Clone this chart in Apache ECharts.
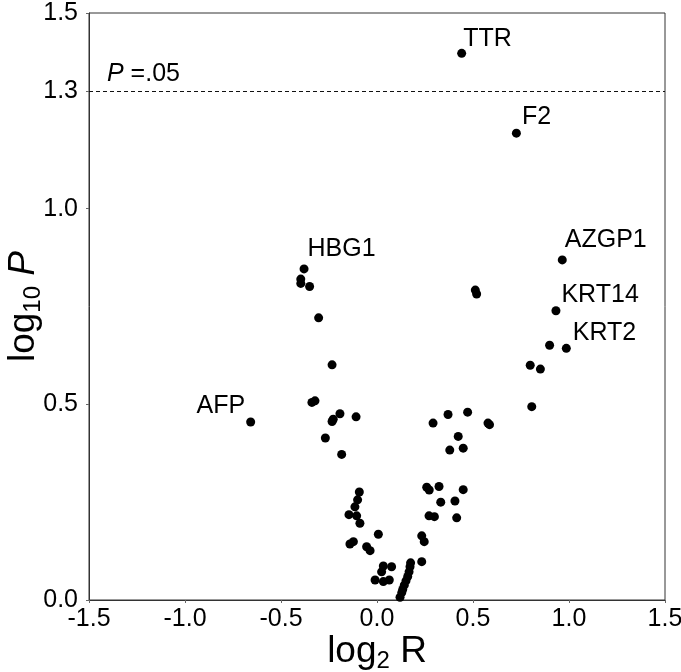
<!DOCTYPE html>
<html>
<head>
<meta charset="UTF-8">
<title>log2 R vs log10 P</title>
<script src="https://cdn.jsdelivr.net/npm/echarts@6/dist/echarts.min.js"></script>
<style>
html, body { margin: 0; padding: 0; background: #fff; }
#main { width: 681px; height: 672px; }
</style>
</head>
<body>
<div id="main"></div>
<script>
// unlabeled proteins
var pointX = [-0.397, -0.397, -0.351, -0.304, -0.234, -0.339, -0.323, -0.193, -0.234, -0.228, -0.109, -0.269, -0.184,
  0.512, 0.519, 0.899, 0.798, 0.851, 0.806, 0.292, 0.370, 0.472, 0.578, 0.586, 0.423, 0.379, 0.449,
  -0.092, -0.101, -0.115, -0.146, -0.106, -0.089, 0.007, -0.141, -0.123, -0.054, -0.036, 0.033, 0.076, 0.024, -0.010, 0.033, 0.064,
  0.259, 0.272, 0.323, 0.449, 0.332, 0.406, 0.271, 0.299, 0.415, 0.233, 0.246, 0.233,
  0.175, 0.172, 0.167, 0.160, 0.151, 0.142, 0.134, 0.129, 0.120];
var pointY = [0.820, 0.809, 0.801, 0.721, 0.601, 0.505, 0.509, 0.476, 0.456, 0.462, 0.468, 0.414, 0.372,
  0.792, 0.782, 0.651, 0.600, 0.590, 0.494, 0.452, 0.474, 0.480, 0.452, 0.448, 0.418, 0.383, 0.388,
  0.276, 0.256, 0.238, 0.218, 0.215, 0.196, 0.168, 0.143, 0.149, 0.136, 0.126, 0.087, 0.085, 0.072, 0.051, 0.047, 0.051,
  0.288, 0.281, 0.290, 0.282, 0.250, 0.253, 0.215, 0.213, 0.210, 0.164, 0.149, 0.098,
  0.095, 0.085, 0.072, 0.060, 0.049, 0.038, 0.027, 0.019, 0.007];

// labeled proteins
var geneNames = ['TTR', 'F2', 'AZGP1', 'KRT14', 'KRT2', 'HBG1', 'AFP'];
var geneX = [0.441, 0.726, 0.965, 0.932, 0.986, -0.380, -0.658];
var geneY = [1.397, 1.193, 0.869, 0.739, 0.643, 0.846, 0.455];

var yTicks = [0, 0.5, 1.0, 1.3, 1.5];
var cutoff = 1.3;

// where each gene name sits next to its dot
var labelPos = {
  TTR: ['right', -3, -14],
  F2: ['right', 1, -16],
  AZGP1: ['right', -2, -20],
  KRT14: ['right', 1, -16],
  KRT2: ['right', 2, -15],
  HBG1: ['right', -1, -20],
  AFP: ['left', -1, -16]
};

var font = 'Liberation Sans, Arial, sans-serif';
var chart = echarts.init(document.getElementById('main'));

var plain = [];
for (var i = 0; i < pointX.length; i++) plain.push([pointX[i], pointY[i]]);

var named = [];
for (var j = 0; j < geneNames.length; j++) {
  var p = labelPos[geneNames[j]];
  named.push({
    name: geneNames[j],
    value: [geneX[j], geneY[j]],
    label: { show: true, position: p[0], distance: 0, offset: [p[1], p[2]] }
  });
}

var option = {
  animation: false,
  grid: { left: 89, right: 16, top: 13, bottom: 72, outerBoundsMode: 'none',
    show: true, borderColor: '#333', borderWidth: 1 },
  xAxis: {
    type: 'value', min: -1.5, max: 1.5, interval: 0.5,
    name: '{m|log}{s|2}{m| R}', nameLocation: 'middle', nameGap: 31, nameMoveOverlap: false,
    nameTextStyle: {
      rich: {
        m: { fontFamily: font, fontSize: 37, color: '#000', lineHeight: 42 },
        s: { fontFamily: font, fontSize: 24, color: '#000', lineHeight: 22, verticalAlign: 'bottom' }
      }
    },
    axisLine: { show: true, onZero: false, lineStyle: { color: '#333' } },
    axisTick: { show: true, length: 3, lineStyle: { color: '#666' } },
    axisLabel: { fontFamily: font, fontSize: 25, color: '#000', margin: 7,
      formatter: function (v) { return v.toFixed(1); } },
    splitLine: { show: false }
  },
  yAxis: {
    type: 'value', min: 0, max: 1.5,
    name: '{m|log}{s|10}{i| P}', nameLocation: 'middle', nameGap: 44, nameRotate: 90, nameMoveOverlap: false,
    nameTextStyle: {
      rich: {
        m: { fontFamily: font, fontSize: 37, color: '#000', lineHeight: 42 },
        s: { fontFamily: font, fontSize: 24, color: '#000', lineHeight: 22, verticalAlign: 'bottom' },
        i: { fontFamily: font, fontSize: 37, color: '#000', fontStyle: 'italic', lineHeight: 42 }
      }
    },
    axisLine: { show: true, onZero: false, lineStyle: { color: '#333' } },
    axisTick: { show: true, length: 3, customValues: yTicks, lineStyle: { color: '#666' } },
    axisLabel: { fontFamily: font, fontSize: 25, color: '#000', margin: 11, customValues: yTicks,
      formatter: function (v) { return v.toFixed(1); } },
    splitLine: { show: false }
  },
  series: [
    {
      type: 'scatter', symbolSize: 9, itemStyle: { color: '#000', opacity: 1 },
      data: plain,
      markLine: {
        silent: true, symbol: 'none',
        lineStyle: { color: '#111', type: [4, 3], width: 1 },
        label: {
          show: true, position: 'insideStartTop', distance: [18, 5],
          formatter: '{i|P} =.05',
          rich: {
            i: { fontFamily: font, fontSize: 25, color: '#000', fontStyle: 'italic' }
          },
          fontFamily: font, fontSize: 25, color: '#000'
        },
        data: [{ yAxis: cutoff }]
      }
    },
    {
      type: 'scatter', symbolSize: 9, itemStyle: { color: '#000', opacity: 1 },
      label: {
        fontFamily: font, fontSize: 25, color: '#000',
        formatter: function (d) { return d.name; }
      },
      data: named
    }
  ]
};

chart.setOption(option);
</script>
</body>
</html>
